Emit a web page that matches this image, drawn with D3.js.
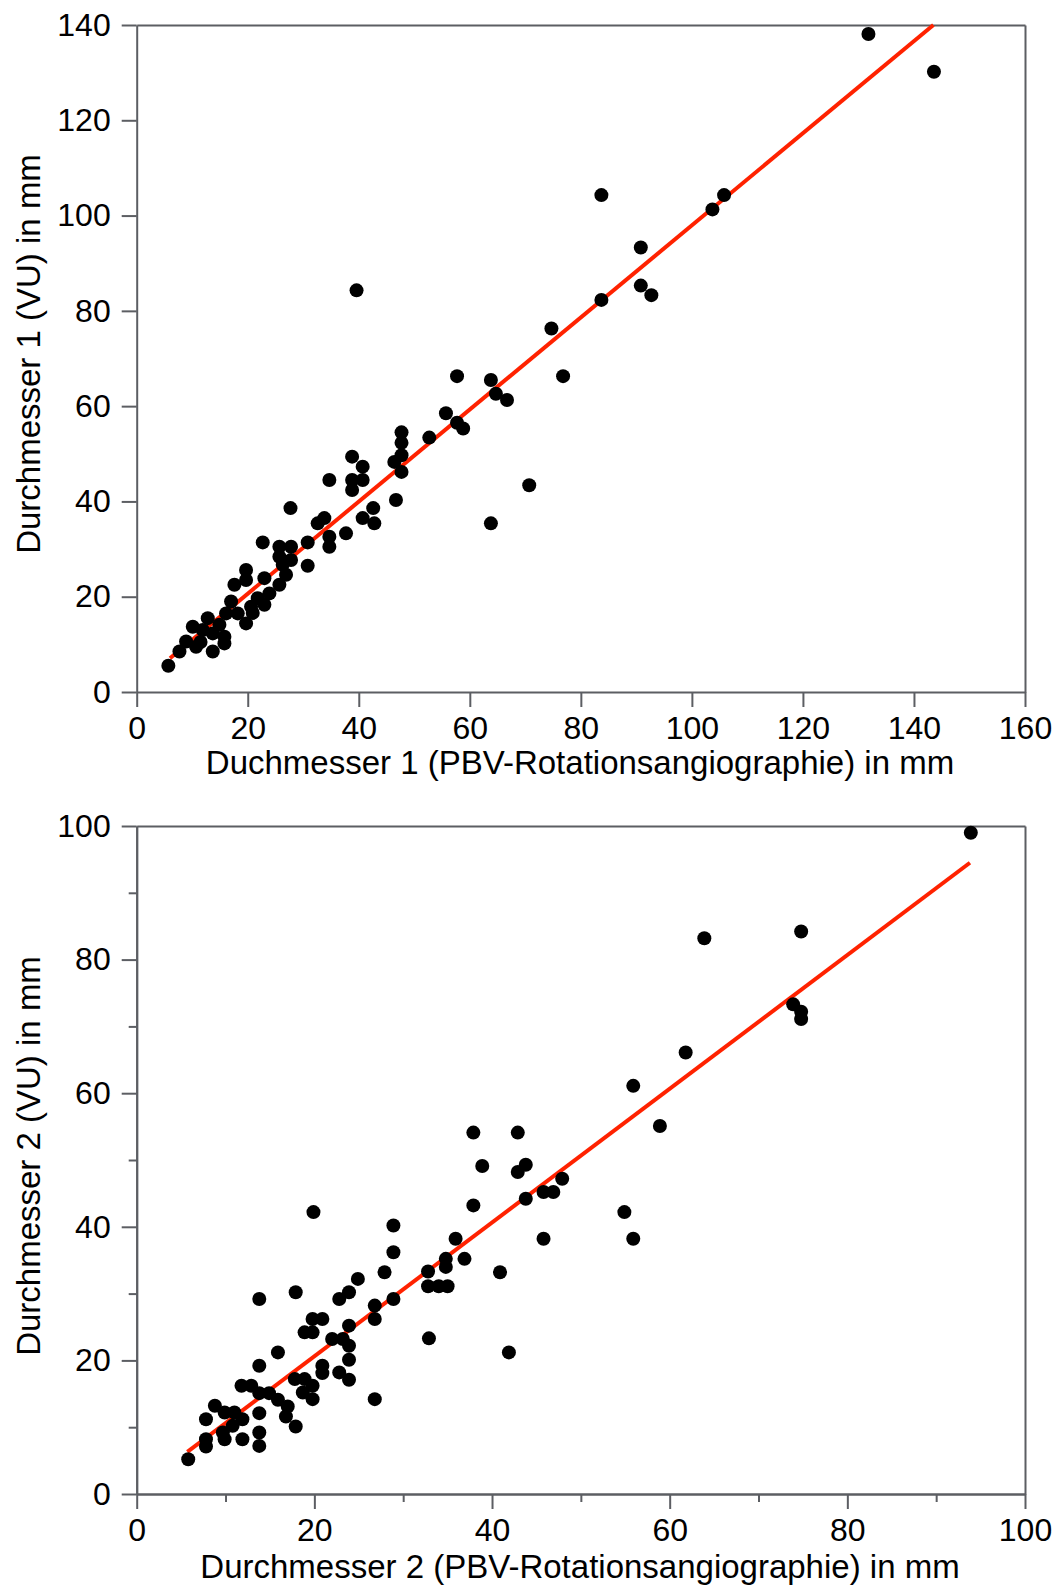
<!DOCTYPE html>
<html>
<head>
<meta charset="utf-8">
<script src="https://cdn.jsdelivr.net/npm/d3@7"></script>
<style>
  body { margin: 0; background: #fff; }
  svg { display: block; font-family: "Liberation Sans", Arial, sans-serif; }
</style>
</head>
<body>
<svg width="1056" height="1588"></svg>
<script>
// Durchmesser 1: PBV-Rotationsangiographie (x) vs. VU (y), in mm
var pbv1 = [131.8, 143.6, 83.7, 105.8, 103.7, 90.8, 90.8, 92.7, 83.7, 74.7, 57.7, 76.8, 63.8, 64.7, 66.7,
  55.7, 57.7, 58.8, 52.7, 47.7, 47.7, 47.7, 46.4, 47.7, 70.7, 46.7, 63.8, 39.6,
  38.8, 40.7, 40.7, 38.8, 38.8, 34.7, 27.7, 42.6, 40.7, 42.8, 33.8, 32.6, 34.7, 34.7, 37.7, 30.8, 30.8,
  22.7, 25.7, 27.8, 25.7, 27.8, 26.3, 26.9, 25.7, 19.7, 19.7, 17.6, 23.0, 23.9, 23.0, 20.6, 19.7, 17.0,
  18.2, 16.1, 14.9, 12.8, 10.1, 11.9, 13.7, 15.8, 8.9, 10.7, 13.7, 15.8, 7.7, 5.7, 20.9, 21.8, 11.5];
var vu1 = [138.1, 130.2, 104.3, 104.3, 101.3, 93.3, 85.3, 83.3, 82.3, 76.3, 66.3, 66.3, 65.5, 62.6, 61.3,
  58.5, 56.5, 55.3, 53.4, 54.5, 52.3, 49.7, 48.3, 46.2, 43.4, 40.3, 35.4, 84.3,
  49.4, 47.3, 44.5, 44.5, 42.4, 44.5, 38.6, 38.6, 36.5, 35.4, 36.5, 35.4, 32.6, 30.5, 33.3, 31.4, 26.5,
  31.4, 30.5, 30.5, 28.4, 27.7, 26.7, 24.6, 22.5, 25.6, 23.5, 22.5, 23.9, 20.7, 18.3, 17.9, 14.4, 19.0,
  16.5, 16.5, 14.1, 15.5, 13.7, 13.0, 12.3, 11.6, 10.6, 9.5, 8.5, 10.2, 8.5, 5.5, 16.6, 19.7, 10.5];
var fit1 = [[6, 7.1], [143.5, 140]];
var xTicks1 = [0, 20, 40, 60, 80, 100, 120, 140, 160];
var yTicks1 = [0, 20, 40, 60, 80, 100, 120, 140];

// Durchmesser 2
var pbv2 = [93.9, 63.9, 74.8, 73.9, 74.8, 74.8, 61.8, 55.9, 58.9, 37.9, 42.9, 38.9, 42.9, 43.8, 47.9,
  45.8, 46.9, 43.8, 37.9, 54.9, 55.9, 45.8, 28.9, 28.9, 35.9, 19.9,
  34.8, 34.8, 36.9, 32.8, 40.9, 32.8, 34.0, 35.0, 32.9, 41.9, 27.9, 24.9, 23.9, 22.8, 28.9, 26.8, 26.8,
  23.9, 17.9, 13.8, 19.8, 20.9, 18.9, 19.8, 22.0, 23.2, 23.9, 23.9, 22.8, 23.9, 20.9, 20.9, 26.8, 15.9,
  13.8, 17.8, 18.9, 19.8, 18.7, 19.8, 11.8, 12.9, 13.8, 14.9, 15.9, 17.0, 16.8, 17.9, 13.8, 13.8, 13.8,
  8.8, 7.8, 9.9, 11.0, 11.9, 10.8, 9.7, 11.9, 9.9, 7.8, 7.8, 5.8];
var vu2 = [99.0, 83.2, 84.2, 73.3, 72.2, 71.1, 66.1, 61.1, 55.1, 54.1, 54.1, 49.1, 48.2, 49.3, 47.2,
  45.2, 45.2, 44.2, 43.2, 42.2, 38.2, 38.2, 40.2, 36.2, 38.2, 42.2,
  35.2, 34.0, 35.2, 33.3, 33.2, 31.1, 31.1, 31.1, 23.3, 21.2, 33.2, 32.2, 30.2, 29.2, 29.2, 28.2, 26.2,
  25.2, 30.2, 29.2, 26.2, 26.2, 24.2, 24.2, 23.2, 23.2, 22.2, 20.1, 18.2, 17.1, 19.2, 18.1, 14.2, 21.2,
  19.2, 17.2, 17.2, 16.2, 15.2, 14.2, 16.2, 16.2, 15.1, 15.1, 14.1, 13.1, 11.6, 10.1, 12.1, 9.2, 7.2,
  13.2, 11.2, 12.2, 12.2, 11.2, 10.2, 9.2, 8.2, 8.2, 8.2, 7.1, 5.2];
var fit2 = [[5.7, 6.3], [93.8, 94.5]];
var xTicks2 = [0, 20, 40, 60, 80, 100];
var xMinor2 = [10, 30, 50, 70, 90];
var yTicks2 = [0, 20, 40, 60, 80, 100];
var yMinor2 = [10, 30, 50, 70, 90];

var axisColor = "#5c5e63";
var svg = d3.select("svg");

function panel(p) {
  var x = d3.scaleLinear().domain(p.xDomain).range([136.7, 1025]);
  var y = d3.scaleLinear().domain(p.yDomain).range([p.bottom, p.top]);
  var g = svg.append("g");

  // frame: top and right borders
  g.append("g")
    .attr("transform", "translate(0," + p.top + ")")
    .call(d3.axisTop(x).tickValues([]).tickSizeOuter(0));
  g.append("g")
    .attr("transform", "translate(1025,0)")
    .call(d3.axisRight(y).tickValues([]).tickSizeOuter(0));

  if (p.xMinor) {
    g.append("g")
      .attr("transform", "translate(0," + p.bottom + ")")
      .call(d3.axisBottom(x).tickValues(p.xMinor).tickSize(8).tickSizeOuter(0).tickFormat(""));
    g.append("g")
      .attr("transform", "translate(136.7,0)")
      .call(d3.axisLeft(y).tickValues(p.yMinor).tickSize(8).tickSizeOuter(0).tickFormat(""));
  }

  g.append("g")
    .attr("transform", "translate(0," + p.bottom + ")")
    .call(d3.axisBottom(x).tickValues(p.xTicks).tickSize(15).tickPadding(9).tickSizeOuter(0));
  g.append("g")
    .attr("transform", "translate(136.7,0)")
    .call(d3.axisLeft(y).tickValues(p.yTicks).tickSize(15).tickPadding(11).tickSizeOuter(0));

  g.selectAll(".domain, .tick line")
    .attr("stroke", axisColor)
    .attr("stroke-width", 2);
  g.selectAll(".tick text")
    .attr("fill", "#000")
    .style("font-size", "32px")
    .style("font-family", "'Liberation Sans', Arial, sans-serif");

  // regression line
  g.append("path")
    .datum(p.fit)
    .attr("fill", "none")
    .attr("stroke", "#ff2200")
    .attr("stroke-width", 4)
    .attr("d", d3.line()
      .x(function(d) { return x(d[0]); })
      .y(function(d) { return y(d[1]); }));

  g.selectAll("circle")
    .data(p.xs)
    .enter().append("circle")
    .attr("cx", function(d) { return x(d); })
    .attr("cy", function(d, i) { return y(p.ys[i]); })
    .attr("r", 7)
    .attr("fill", "#000");

  g.append("text")
    .attr("x", 580)
    .attr("y", p.xTitleY)
    .attr("text-anchor", "middle")
    .style("font-size", "33px")
    .text(p.xTitle);

  g.append("text")
    .attr("transform", "translate(39.5," + p.yTitleMid + ") rotate(-90)")
    .attr("text-anchor", "middle")
    .style("font-size", "33px")
    .text(p.yTitle);
}

panel({
  xs: pbv1, ys: vu1, fit: fit1,
  xDomain: [0, 160], yDomain: [0, 140],
  xTicks: xTicks1, yTicks: yTicks1,
  top: 25, bottom: 692,
  xTitle: "Duchmesser 1 (PBV-Rotationsangiographie) in mm", xTitleY: 774,
  yTitle: "Durchmesser 1 (VU) in mm", yTitleMid: 354
});

panel({
  xs: pbv2, ys: vu2, fit: fit2,
  xDomain: [0, 100], yDomain: [0, 100],
  xTicks: xTicks2, yTicks: yTicks2, xMinor: xMinor2, yMinor: yMinor2,
  top: 826, bottom: 1494,
  xTitle: "Durchmesser 2 (PBV-Rotationsangiographie) in mm", xTitleY: 1578,
  yTitle: "Durchmesser 2 (VU) in mm", yTitleMid: 1156
});
</script>
</body>
</html>
